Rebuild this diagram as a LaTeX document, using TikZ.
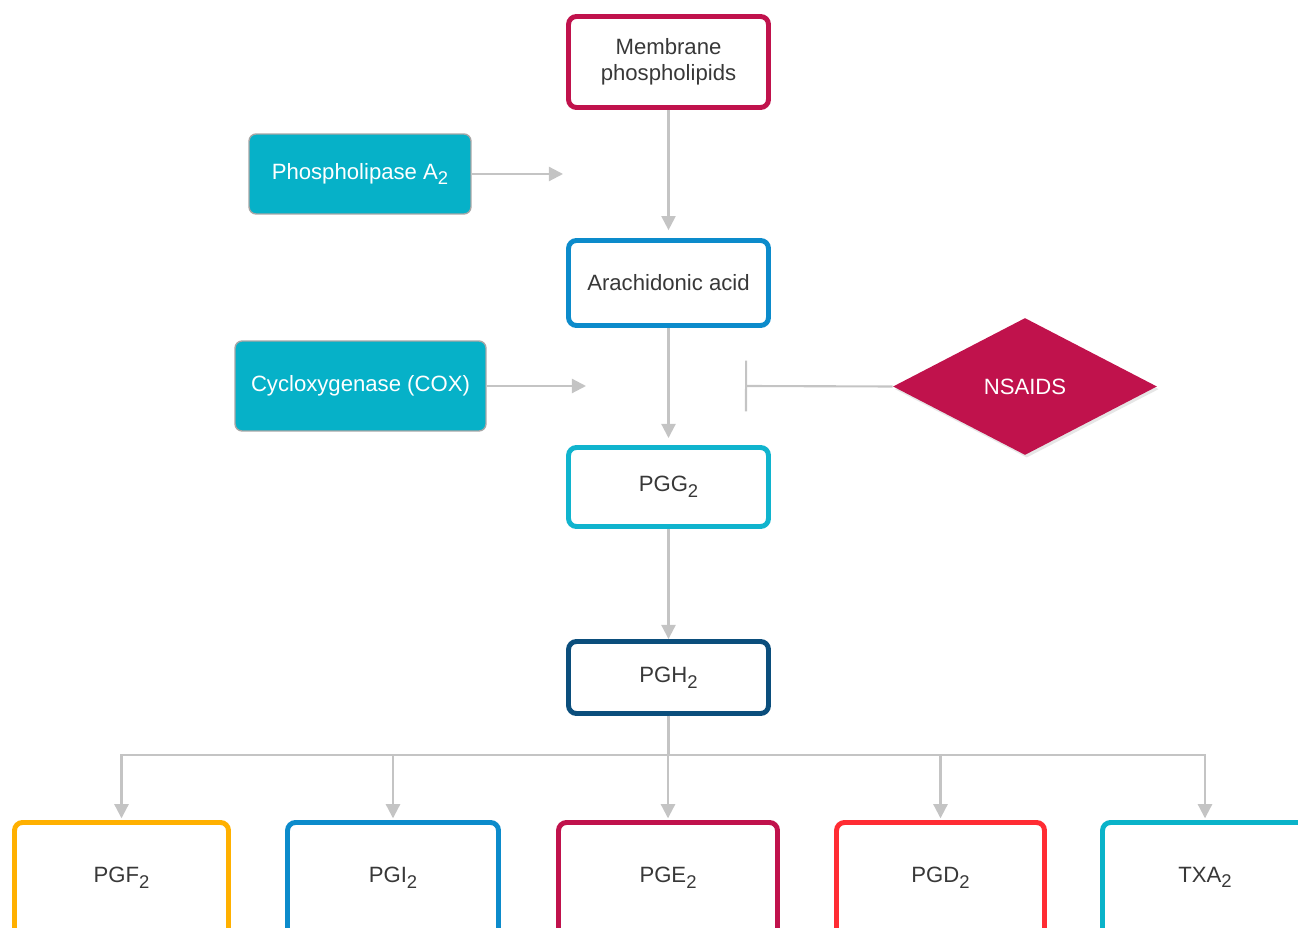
\documentclass[tikz,border=0pt]{standalone}
\usepackage{fontspec}
\setmainfont{Liberation Sans}
\usepackage{xcolor}
\usetikzlibrary{arrows.meta,shapes.geometric,shadows}
\definecolor{crimson}{HTML}{C0124C}
\definecolor{arablue}{HTML}{0C8BCB}
\definecolor{pggcyan}{HTML}{10B4CE}
\definecolor{pghnavy}{HTML}{0B4E7C}
\definecolor{pgforange}{HTML}{FFB000}
\definecolor{pgdred}{HTML}{FF2C33}
\definecolor{txacyan}{HTML}{0AB3C9}
\definecolor{enzfill}{HTML}{06B1C8}
\definecolor{linegray}{HTML}{C4C4C4}
\definecolor{txtgray}{HTML}{383838}
\newcommand{\lowsub}[1]{\raisebox{-0.5ex}{\fontsize{10.5}{12}\selectfont #1}}

\begin{document}
\begin{tikzpicture}[x=0.02cm,y=-0.02cm,font=\fontsize{12.6}{15}\selectfont,
  >={Triangle[length=8pt,width=8pt]},
  box/.style={draw=#1,line width=2.8pt,rounded corners=4.5pt,fill=white,text=txtgray,
    align=center,inner sep=0pt,minimum width=4cm},
  enz/.style={draw=black!35,line width=0.8pt,rounded corners=4pt,fill=enzfill,text=white,
    inner sep=0pt},
  con/.style={->,draw=linegray,line width=1.2pt}]
  \useasboundingbox (0,0) rectangle (1298,928);
  \clip (0,0) rectangle (1298,928);

  % main chain
  \node[box=crimson,minimum height=1.82cm] (mem) at (668.5,62) {Membrane\\phospholipids};
  \node[box=arablue,minimum height=1.7cm] (ara) at (668.5,283) {Arachidonic acid};
  \node[box=pggcyan,minimum height=1.58cm] (pgg) at (668.5,487) {PGG\lowsub{2}};
  \node[box=pghnavy,minimum height=1.44cm] (pgh) at (668.5,677.5) {PGH\lowsub{2}};

  % enzymes and inhibitor
  \node[enz,minimum width=4.44cm,minimum height=1.6cm] (pla) at (360,174) {Phospholipase A\lowsub{2}};
  \node[enz,minimum width=5.02cm,minimum height=1.8cm] (cox) at (360.5,386) {Cycloxygenase (COX)};
  \node[diamond,fill=crimson,text=white,inner sep=0pt,minimum width=5.28cm,minimum height=2.74cm,
    drop shadow={opacity=0.2,shadow xshift=1pt,shadow yshift=-1.5pt}] (nsaid) at (1025,386.5) {NSAIDS};
  \coordinate (plaend) at (563,174);
  \coordinate (coxend) at (586,386);
  \coordinate (block) at (745,386);
  \coordinate (split) at (668.5,755);

  \draw[con] (mem) -- ([yshift=4.5pt]ara.north);
  \draw[con] (ara) -- ([yshift=4pt]pgg.north);
  \draw[con] (pgg) -- (pgh);
  \draw[con] (pla) -- (plaend);
  \draw[con] (cox) -- (coxend);
  \draw[draw=linegray,line width=1.2pt,-{Bar[width=29pt]}] (nsaid.west) -- (block);

  % products
  \foreach \x/\w/\n/\c/\t in {121.5/4.28/pgf/pgforange/PGF,393/4.22/pgi/arablue/PGI,
      668/4.38/pge/crimson/PGE,940.5/4.16/pgd/pgdred/PGD,1205/4.1/txa/txacyan/TXA}{
    \node[box=\c,minimum width=\w cm,minimum height=2.7cm,text depth=0.62cm] (\n) at (\x,890) {\t\lowsub{2}};
    \draw[con] (pgh.south) -- (split) -| ([yshift=1pt]\n.north);
  }
\end{tikzpicture}
\end{document}
